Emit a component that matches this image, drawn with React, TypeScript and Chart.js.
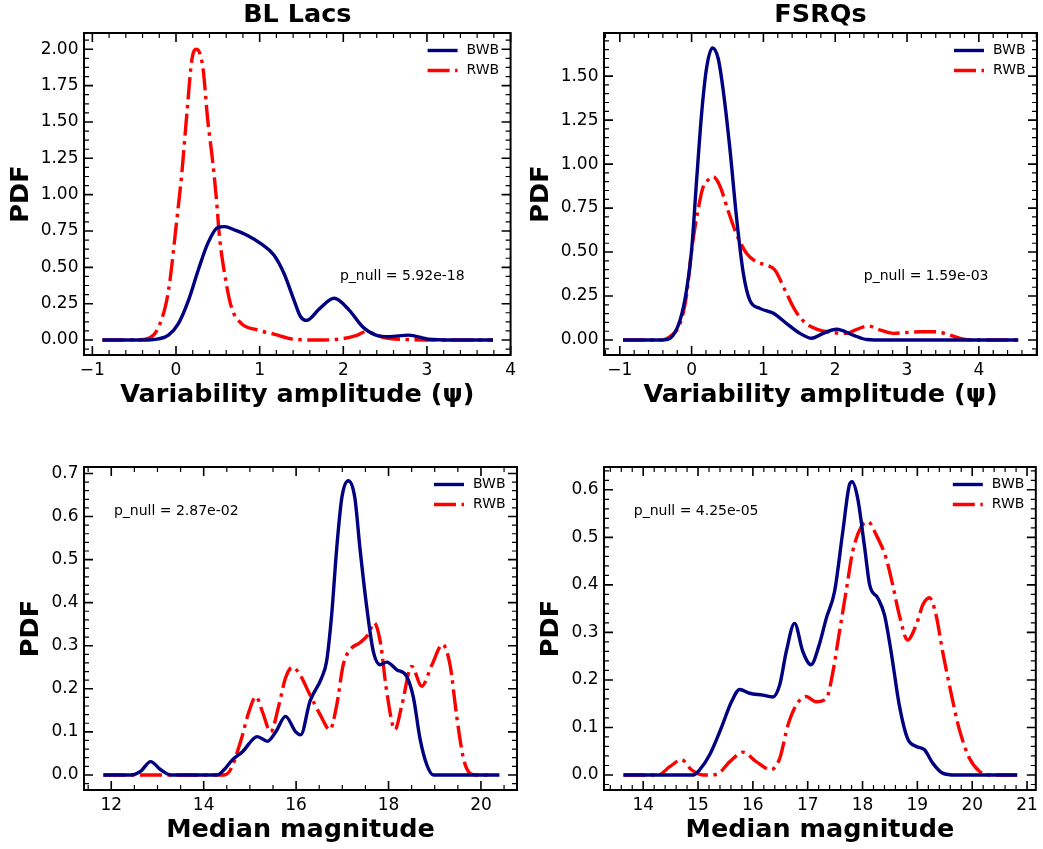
import React, { useEffect, useRef } from "react";
import { Chart, registerables } from "chart.js";

Chart.register(...registerables);

const FONT = '"DejaVu Sans", "Liberation Sans", sans-serif';
const BWB_COLOR = "#000080";
const RWB_COLOR = "#ff0000";
const LINE_W = 3.4;
const DASHDOT = [22, 5.5, 3.5, 5.5];

// ---------------- Text ----------------
const panelTitles = ["BL Lacs", "FSRQs"];
const seriesLabels = ["BWB", "RWB"];
const xLabels = ["Variability amplitude (\u03c8)", "Median magnitude"];
const yLabel = "PDF";
const pNullTexts = ["p_null = 5.92e-18", "p_null = 1.59e-03", "p_null = 2.87e-02", "p_null = 4.25e-05"];

// ---------------- Data: BL Lacs, variability amplitude ----------------
const blPsiBwbX = [-0.88, -0.5, -0.3, -0.21, -0.09, 0.03, 0.15, 0.265, 0.38, 0.5, 0.58, 0.7, 0.86, 1.01, 1.17, 1.29, 1.41, 1.49, 1.56, 1.72, 1.89, 2.07, 2.23, 2.39, 2.55, 2.78, 3.02, 3.3, 3.79];
const blPsiBwbY = [0, 0, 0.002, 0.008, 0.034, 0.115, 0.275, 0.48, 0.665, 0.775, 0.78, 0.757, 0.718, 0.665, 0.585, 0.459, 0.275, 0.16, 0.135, 0.218, 0.287, 0.206, 0.092, 0.034, 0.023, 0.034, 0.005, 0, 0];
const blPsiRwbX = [-0.88, -0.5, -0.33, -0.2, -0.09, 0.01, 0.07, 0.13, 0.19, 0.245, 0.32, 0.38, 0.44, 0.48, 0.52, 0.58, 0.66, 0.78, 0.975, 1.17, 1.41, 1.7, 2.0, 2.15, 2.27, 2.4, 2.5, 2.8, 3.2, 3.79];
const blPsiRwbY = [0, 0.001, 0.012, 0.1, 0.34, 0.83, 1.15, 1.56, 1.93, 2.0, 1.88, 1.51, 1.22, 0.99, 0.71, 0.46, 0.23, 0.115, 0.069, 0.041, 0.005, 0, 0.01, 0.03, 0.057, 0.035, 0.015, 0.003, 0, 0];

// ---------------- Data: FSRQs, variability amplitude ----------------
const fsPsiBwbX = [-0.955, -0.5, -0.39, -0.3, -0.16, -0.07, 0.0, 0.07, 0.14, 0.21, 0.29, 0.37, 0.44, 0.53, 0.63, 0.72, 0.81, 0.95, 1.14, 1.32, 1.51, 1.67, 1.81, 2.02, 2.25, 2.44, 2.7, 4.55];
const fsPsiBwbY = [0, 0, 0.001, 0.01, 0.114, 0.284, 0.51, 0.91, 1.29, 1.55, 1.66, 1.6, 1.42, 1.1, 0.68, 0.38, 0.227, 0.18, 0.152, 0.095, 0.038, 0.01, 0.034, 0.061, 0.028, 0.003, 0, 0];
const fsPsiRwbX = [-0.955, -0.5, -0.39, -0.3, -0.16, -0.07, 0.0, 0.09, 0.16, 0.23, 0.3, 0.4, 0.49, 0.63, 0.77, 0.9, 1.04, 1.16, 1.3, 1.44, 1.58, 1.74, 1.98, 2.16, 2.3, 2.46, 2.63, 2.81, 3.0, 3.18, 3.41, 3.6, 3.79, 4.0, 4.55];
const fsPsiRwbY = [0, 0, 0.002, 0.02, 0.095, 0.256, 0.51, 0.74, 0.87, 0.91, 0.928, 0.87, 0.757, 0.597, 0.49, 0.445, 0.426, 0.398, 0.284, 0.17, 0.098, 0.0625, 0.042, 0.038, 0.061, 0.08, 0.057, 0.038, 0.043, 0.047, 0.047, 0.028, 0.005, 0, 0];

// ---------------- Data: BL Lacs, median magnitude ----------------
const blMagBwbX = [11.83, 12.42, 12.64, 12.85, 13.07, 13.29, 14.29, 14.44, 14.62, 14.84, 15.16, 15.38, 15.56, 15.77, 15.99, 16.1, 16.3, 16.55, 16.66, 16.77, 16.88, 16.99, 17.13, 17.27, 17.38, 17.53, 17.67, 17.82, 17.96, 18.18, 18.39, 18.54, 18.68, 18.83, 18.97, 20.4];
const blMagBwbY = [0, 0, 0.009, 0.031, 0.012, 0, 0, 0.012, 0.035, 0.054, 0.089, 0.078, 0.1, 0.136, 0.1, 0.093, 0.171, 0.225, 0.264, 0.373, 0.528, 0.644, 0.683, 0.644, 0.528, 0.388, 0.287, 0.256, 0.262, 0.244, 0.229, 0.179, 0.085, 0.023, 0, 0];
const blMagRwbX = [11.83, 14.44, 14.58, 14.8, 14.98, 15.13, 15.27, 15.45, 15.63, 15.77, 15.92, 16.08, 16.3, 16.52, 16.73, 16.88, 17.02, 17.17, 17.38, 17.56, 17.69, 17.82, 17.96, 18.14, 18.29, 18.5, 18.72, 18.94, 19.17, 19.33, 19.48, 19.62, 19.76, 19.9, 20.27];
const blMagRwbY = [0, 0, 0.012, 0.078, 0.147, 0.182, 0.147, 0.1, 0.163, 0.225, 0.25, 0.233, 0.186, 0.14, 0.105, 0.163, 0.256, 0.291, 0.307, 0.326, 0.353, 0.31, 0.194, 0.105, 0.163, 0.252, 0.206, 0.256, 0.303, 0.256, 0.132, 0.039, 0.004, 0, 0];

// ---------------- Data: FSRQs, median magnitude ----------------
const fsMagBwbX = [13.64, 14.91, 15.03, 15.21, 15.42, 15.61, 15.76, 15.94, 16.18, 16.36, 16.49, 16.61, 16.76, 16.91, 17.06, 17.2, 17.34, 17.49, 17.64, 17.76, 17.81, 17.91, 18.04, 18.13, 18.28, 18.4, 18.52, 18.67, 18.82, 18.98, 19.13, 19.28, 19.46, 19.7, 20.82];
const fsMagBwbY = [0, 0, 0.011, 0.042, 0.098, 0.154, 0.18, 0.172, 0.168, 0.164, 0.19, 0.26, 0.319, 0.26, 0.232, 0.27, 0.33, 0.386, 0.512, 0.61, 0.617, 0.583, 0.477, 0.4, 0.372, 0.337, 0.26, 0.147, 0.077, 0.06, 0.053, 0.025, 0.004, 0, 0];
const fsMagRwbX = [13.64, 14.27, 14.49, 14.7, 14.88, 15.09, 15.33, 15.58, 15.82, 16.06, 16.33, 16.49, 16.64, 16.79, 16.97, 17.15, 17.34, 17.46, 17.58, 17.7, 17.82, 17.98, 18.1, 18.25, 18.43, 18.55, 18.67, 18.82, 18.98, 19.1, 19.22, 19.34, 19.46, 19.61, 19.76, 19.95, 20.13, 20.31, 20.82];
const fsMagRwbY = [0, 0, 0.018, 0.032, 0.011, 0, 0.001, 0.028, 0.048, 0.028, 0.011, 0.035, 0.105, 0.147, 0.165, 0.154, 0.161, 0.217, 0.302, 0.386, 0.47, 0.523, 0.533, 0.505, 0.456, 0.4, 0.337, 0.284, 0.316, 0.358, 0.373, 0.337, 0.26, 0.175, 0.098, 0.035, 0.008, 0, 0];

// ---------------- Plugins ----------------
function minorRange(min: number, max: number, step: number, div: number, cb: (v: number, major: boolean) => void) {
  const ms = step / div;
  const k0 = Math.ceil(min / ms - 1e-9);
  const k1 = Math.floor(max / ms + 1e-9);
  for (let k = k0; k <= k1; k++) {
    cb(k * ms, ((k % div) + div) % div === 0);
  }
}

const mplAxes = {
  id: "mplAxes",
  afterDatasetsDraw(chart: any, _args: any, opts: any) {
    const { ctx, chartArea: a, scales } = chart;
    const xs = scales.x;
    const ys = scales.y;
    ctx.save();
    ctx.strokeStyle = "#000";
    ctx.lineCap = "butt";
    minorRange(xs.min, xs.max, opts.xStep, opts.xDiv, (v, major) => {
      const p = xs.getPixelForValue(v);
      const len = major ? 9 : 5;
      ctx.lineWidth = major ? 1.6 : 1.2;
      ctx.beginPath();
      ctx.moveTo(p, a.bottom);
      ctx.lineTo(p, a.bottom - len);
      ctx.moveTo(p, a.top);
      ctx.lineTo(p, a.top + len);
      ctx.stroke();
    });
    minorRange(ys.min, ys.max, opts.yStep, opts.yDiv, (v, major) => {
      const p = ys.getPixelForValue(v);
      const len = major ? 9 : 5;
      ctx.lineWidth = major ? 1.6 : 1.2;
      ctx.beginPath();
      ctx.moveTo(a.left, p);
      ctx.lineTo(a.left + len, p);
      ctx.moveTo(a.right, p);
      ctx.lineTo(a.right - len, p);
      ctx.stroke();
    });
    ctx.lineWidth = 2;
    ctx.strokeRect(a.left, a.top, a.right - a.left, a.bottom - a.top);
    ctx.restore();
  },
};

const mplLegend = {
  id: "mplLegend",
  afterDraw(chart: any) {
    const { ctx, chartArea: a } = chart;
    ctx.save();
    chart.data.datasets.forEach((ds: any, i: number) => {
      const y = a.top + 17.5 + i * 20;
      ctx.strokeStyle = ds.borderColor;
      ctx.lineWidth = ds.borderWidth;
      ctx.lineCap = "butt";
      ctx.setLineDash(ds.borderDash || []);
      ctx.beginPath();
      ctx.moveTo(a.right - 83, y);
      ctx.lineTo(a.right - 53, y);
      ctx.stroke();
      ctx.setLineDash([]);
      ctx.fillStyle = "#000";
      ctx.font = `14px ${FONT}`;
      ctx.textAlign = "left";
      ctx.textBaseline = "middle";
      ctx.fillText(ds.label, a.right - 44, y);
    });
    ctx.restore();
  },
};

const pNull = {
  id: "pNull",
  afterDraw(chart: any, _args: any, opts: any) {
    if (!opts || !opts.text) return;
    const { ctx, chartArea: a } = chart;
    ctx.save();
    ctx.fillStyle = "#000";
    ctx.font = `14px ${FONT}`;
    ctx.textAlign = "left";
    ctx.textBaseline = "middle";
    ctx.fillText(opts.text, a.left + opts.fx * (a.right - a.left), a.bottom - opts.fy * (a.bottom - a.top));
    ctx.restore();
  },
};

// ---------------- Panels ----------------
type PanelCfg = {
  left: number;
  top: number;
  w: number;
  h: number;
  area: { l: number; r: number; t: number; b: number };
  title?: string;
  xLabel: string;
  xMin: number;
  xMax: number;
  xStep: number;
  xDiv: number;
  yMin: number;
  yMax: number;
  yStep: number;
  yDiv: number;
  yDec: number;
  yTitleOffset: number;
  pnull: { text: string; fx: number; fy: number };
  bwb: [number[], number[]];
  rwb: [number[], number[]];
};

const toPts = (xs: number[], ys: number[]) => xs.map((x, i) => ({ x, y: ys[i] }));
const fmtMinus = (s: string) => s.replace("-", "\u2212");

function Panel({ cfg }: { cfg: PanelCfg }) {
  const ref = useRef<HTMLCanvasElement>(null);
  useEffect(() => {
    const a = cfg.area;
    const titleLH = 25.5 * 1.2;
    const chart = new Chart(ref.current as HTMLCanvasElement, {
      type: "line",
      data: {
        datasets: [
          {
            label: seriesLabels[0],
            data: toPts(cfg.bwb[0], cfg.bwb[1]),
            borderColor: BWB_COLOR,
            borderWidth: LINE_W,
            pointRadius: 0,
            fill: false,
            cubicInterpolationMode: "monotone",
          },
          {
            label: seriesLabels[1],
            data: toPts(cfg.rwb[0], cfg.rwb[1]),
            borderColor: RWB_COLOR,
            borderWidth: LINE_W,
            borderDash: DASHDOT,
            pointRadius: 0,
            fill: false,
            cubicInterpolationMode: "monotone",
          },
        ],
      },
      options: {
        animation: false,
        responsive: false,
        devicePixelRatio: 1,
        events: [],
        layout: {
          padding: { left: 0, right: cfg.w - a.r, top: cfg.title ? 0 : a.t, bottom: 0 },
        },
        plugins: {
          legend: { display: false },
          tooltip: { enabled: false },
          title: {
            display: !!cfg.title,
            text: cfg.title || "",
            fullSize: false,
            color: "#000",
            font: { family: FONT, size: 25.5, weight: "bold" },
            padding: { top: 0, bottom: a.t - titleLH },
          },
          mplAxes: { xStep: cfg.xStep, xDiv: cfg.xDiv, yStep: cfg.yStep, yDiv: cfg.yDiv },
          pNull: cfg.pnull,
        } as any,
        scales: {
          x: {
            type: "linear",
            min: cfg.xMin,
            max: cfg.xMax,
            afterFit: (s: any) => {
              s.height = cfg.h - a.b;
            },
            grid: { display: false, drawTicks: false },
            border: { display: false },
            ticks: {
              stepSize: cfg.xStep,
              includeBounds: false,
              autoSkip: false,
              maxRotation: 0,
              padding: 5,
              color: "#000",
              font: { family: FONT, size: 17 },
              callback: (v: any) => fmtMinus(String(Math.round(Number(v)))),
            },
            title: {
              display: true,
              text: cfg.xLabel,
              color: "#000",
              font: { family: FONT, size: 25.5, weight: "bold" },
              padding: { top: 0, bottom: cfg.h - a.b - titleLH / 2 - 40.5 },
            },
          },
          y: {
            type: "linear",
            min: cfg.yMin,
            max: cfg.yMax,
            afterFit: (s: any) => {
              s.width = a.l;
            },
            grid: { display: false, drawTicks: false },
            border: { display: false },
            ticks: {
              stepSize: cfg.yStep,
              includeBounds: false,
              autoSkip: false,
              padding: 5.5,
              color: "#000",
              font: { family: FONT, size: 17 },
              callback: (v: any) => fmtMinus(Number(v).toFixed(cfg.yDec)),
            },
            title: {
              display: true,
              text: yLabel,
              color: "#000",
              font: { family: FONT, size: 25.5, weight: "bold" },
              padding: { top: a.l - cfg.yTitleOffset - titleLH / 2, bottom: 0 },
            },
          },
        },
      } as any,
      plugins: [mplAxes, mplLegend, pNull],
    });
    return () => chart.destroy();
  }, [cfg]);
  return (
    <canvas
      ref={ref}
      width={cfg.w}
      height={cfg.h}
      style={{ position: "absolute", left: cfg.left, top: cfg.top, width: cfg.w, height: cfg.h }}
    />
  );
}

const panels: PanelCfg[] = [
  {
    left: 0, top: 0, w: 521, h: 420,
    area: { l: 84, r: 517, t: 33, b: 355 },
    title: panelTitles[0], xLabel: xLabels[0],
    xMin: -1.1, xMax: 4.0, xStep: 1, xDiv: 5,
    yMin: -0.103, yMax: 2.112, yStep: 0.25, yDiv: 4, yDec: 2, yTitleOffset: 63,
    pnull: { text: pNullTexts[0], fx: 0.6, fy: 0.244 },
    bwb: [blPsiBwbX, blPsiBwbY], rwb: [blPsiRwbX, blPsiRwbY],
  },
  {
    left: 521, top: 0, w: 522, h: 420,
    area: { l: 83, r: 516, t: 33, b: 355 },
    title: panelTitles[1], xLabel: xLabels[0],
    xMin: -1.22, xMax: 4.81, xStep: 1, xDiv: 5,
    yMin: -0.085, yMax: 1.745, yStep: 0.25, yDiv: 5, yDec: 2, yTitleOffset: 63,
    pnull: { text: pNullTexts[1], fx: 0.6, fy: 0.244 },
    bwb: [fsPsiBwbX, fsPsiBwbY], rwb: [fsPsiRwbX, fsPsiRwbY],
  },
  {
    left: 0, top: 420, w: 521, h: 429,
    area: { l: 84, r: 517, t: 47, b: 370 },
    xLabel: xLabels[1],
    xMin: 11.41, xMax: 20.78, xStep: 2, xDiv: 4,
    yMin: -0.035, yMax: 0.715, yStep: 0.1, yDiv: 5, yDec: 1, yTitleOffset: 53,
    pnull: { text: pNullTexts[2], fx: 0.069, fy: 0.862 },
    bwb: [blMagBwbX, blMagBwbY], rwb: [blMagRwbX, blMagRwbY],
  },
  {
    left: 521, top: 420, w: 522, h: 429,
    area: { l: 83, r: 516, t: 47, b: 370 },
    xLabel: xLabels[1],
    xMin: 13.285, xMax: 21.16, xStep: 1, xDiv: 5,
    yMin: -0.0316, yMax: 0.648, yStep: 0.1, yDiv: 5, yDec: 1, yTitleOffset: 53,
    pnull: { text: pNullTexts[3], fx: 0.069, fy: 0.862 },
    bwb: [fsMagBwbX, fsMagBwbY], rwb: [fsMagRwbX, fsMagRwbY],
  },
];

export default function App() {
  return (
    <div style={{ position: "absolute", left: 0, top: 0, width: 1043, height: 849, background: "#fff" }}>
      {panels.map((p, i) => (
        <Panel key={i} cfg={p} />
      ))}
    </div>
  );
}
